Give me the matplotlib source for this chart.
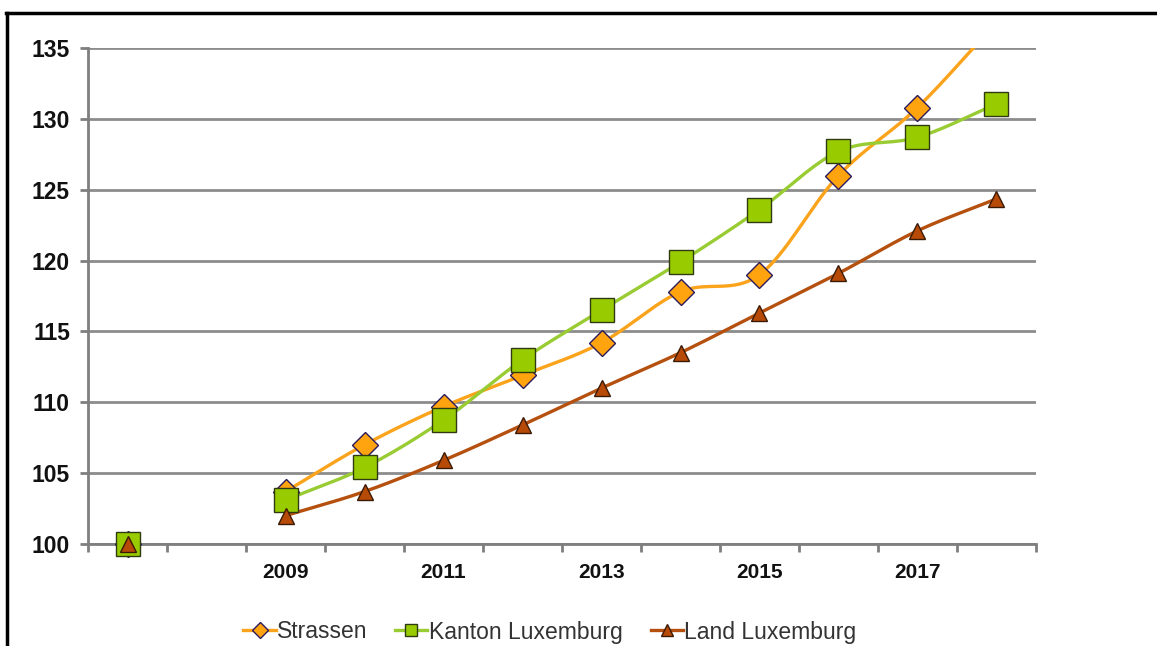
import numpy as np
import matplotlib.pyplot as plt
from matplotlib.lines import Line2D
from matplotlib.patches import Rectangle

plt.rcParams['font.family'] = ['Liberation Sans', 'DejaVu Sans']

years = [2007, 2008, 2009, 2010, 2011, 2012, 2013, 2014, 2015, 2016, 2017, 2018]
x_labels = ['', '', '2009', '', '2011', '', '2013', '', '2015', '', '2017', '']

strassen = [100, np.nan, 103.7, 107.0, 109.7, 111.9, 114.2, 117.8, 119.0, 126.0, 130.8, 136.8]
kanton = [100, np.nan, 103.1, 105.4, 108.75, 113.0, 116.5, 119.9, 123.6, 127.7, 128.7, 131.05]
land = [100, np.nan, 102.0, 103.7, 105.9, 108.4, 111.0, 113.5, 116.3, 119.1, 122.1, 124.35]

series = [
    ('Strassen', strassen, '#FBA31B', 'D', '#FFA30F', '#2B1B5C', 13, 8),
    ('Kanton Luxemburg', kanton, '#99CC33', 's', '#99CC00', '#2F3A10', 17, 8.5),
    ('Land Luxemburg', land, '#B5500F', '^', '#B84A08', '#3A1A05', 12, 9),
]


def smooth(xs, ys, n=20):
    # Catmull-Rom curve through consecutive points
    xs = np.asarray(xs, float)
    ys = np.asarray(ys, float)
    if len(xs) < 2:
        return xs, ys
    px = np.concatenate([[2 * xs[0] - xs[1]], xs, [2 * xs[-1] - xs[-2]]])
    py = np.concatenate([[2 * ys[0] - ys[1]], ys, [2 * ys[-1] - ys[-2]]])
    out_x, out_y = [], []
    t = np.linspace(0, 1, n)
    for i in range(1, len(px) - 2):
        for p, out in ((px, out_x), (py, out_y)):
            p0, p1, p2, p3 = p[i - 1], p[i], p[i + 1], p[i + 2]
            out.extend(0.5 * ((2 * p1) + (-p0 + p2) * t
                              + (2 * p0 - 5 * p1 + 4 * p2 - p3) * t ** 2
                              + (-p0 + 3 * p1 - 3 * p2 + p3) * t ** 3))
    return np.array(out_x), np.array(out_y)


fig = plt.figure(figsize=(11.57, 6.46), dpi=100)
ax = fig.add_axes([0.0761, 0.1579, 0.8193, 0.7678])

# markers may hang below the x axis but not past the top of the plot
marker_clip = Rectangle((-0.05, -0.1), 1.1, 1.1, transform=ax.transAxes,
                        fill=False, visible=False)
ax.add_patch(marker_clip)

pos = np.arange(len(years))
for name, vals, lc, mk, fc, ec, ms, lms in series:
    vals = np.asarray(vals, float)
    # draw the line piece by piece, skipping missing years
    seg = []
    for i, v in enumerate(vals):
        if np.isnan(v):
            if len(seg) > 1:
                sx, sy = smooth(pos[seg], vals[seg])
                ax.plot(sx, sy, color=lc, lw=2.4, zorder=3)
            seg = []
        else:
            seg.append(i)
    if len(seg) > 1:
        sx, sy = smooth(pos[seg], vals[seg])
        ax.plot(sx, sy, color=lc, lw=2.4, zorder=3)
    inside = np.where(vals <= 135, vals, np.nan)
    mline, = ax.plot(pos, inside, ls='none', marker=mk, ms=ms, mfc=fc, mec=ec,
                     mew=1.0, zorder=4)
    mline.set_clip_path(marker_clip)

ax.set_xlim(-0.5, len(years) - 0.5)
ax.set_ylim(100, 135)
ax.set_yticks(np.arange(100, 136, 5))
ax.yaxis.grid(True, color='#8C8C8C', lw=2)
ax.set_axisbelow(True)

ax.set_xticks(np.arange(-0.5, len(years), 1))
ax.set_xticklabels([])
ax.set_xticks(pos, minor=True)
ax.set_xticklabels(x_labels, minor=True)
ax.tick_params(axis='x', which='major', length=6, width=2, color='#7F7F7F')
ax.tick_params(axis='x', which='minor', length=0, pad=14,
               labelsize=15, labelcolor='#111111')
ax.tick_params(axis='y', length=6, width=2, color='#7F7F7F',
               labelsize=16.5, labelcolor='#111111', pad=7)
for lbl in ax.get_xticklabels(minor=True) + ax.get_yticklabels():
    lbl.set_fontweight('bold')

for side in ('top', 'right'):
    ax.spines[side].set_visible(False)
for side in ('left', 'bottom'):
    ax.spines[side].set_color('#7F7F7F')
    ax.spines[side].set_linewidth(2)

handles = [Line2D([], [], color=lc, lw=2.4, marker=mk, ms=lms,
                  mfc=fc, mec=ec, mew=1.0)
           for name, vals, lc, mk, fc, ec, ms, lms in series]
fig.legend(handles, [s[0] for s in series], loc='center',
           bbox_to_anchor=(0.4754, 1 - 632 / 646), ncol=3, frameon=False,
           fontsize=16.5, handlelength=1.4, handletextpad=0.08,
           columnspacing=1.2, labelcolor='#333333')

# outer frame (left and top edges)
fig.add_artist(Line2D([0.0061, 0.0061], [0, 0.98], color='black', lw=2.5,
                      transform=fig.transFigure))
fig.add_artist(Line2D([0.005, 1.0], [0.98, 0.98], color='black', lw=2.5,
                      transform=fig.transFigure))

fig.savefig('out.png', dpi=100)
